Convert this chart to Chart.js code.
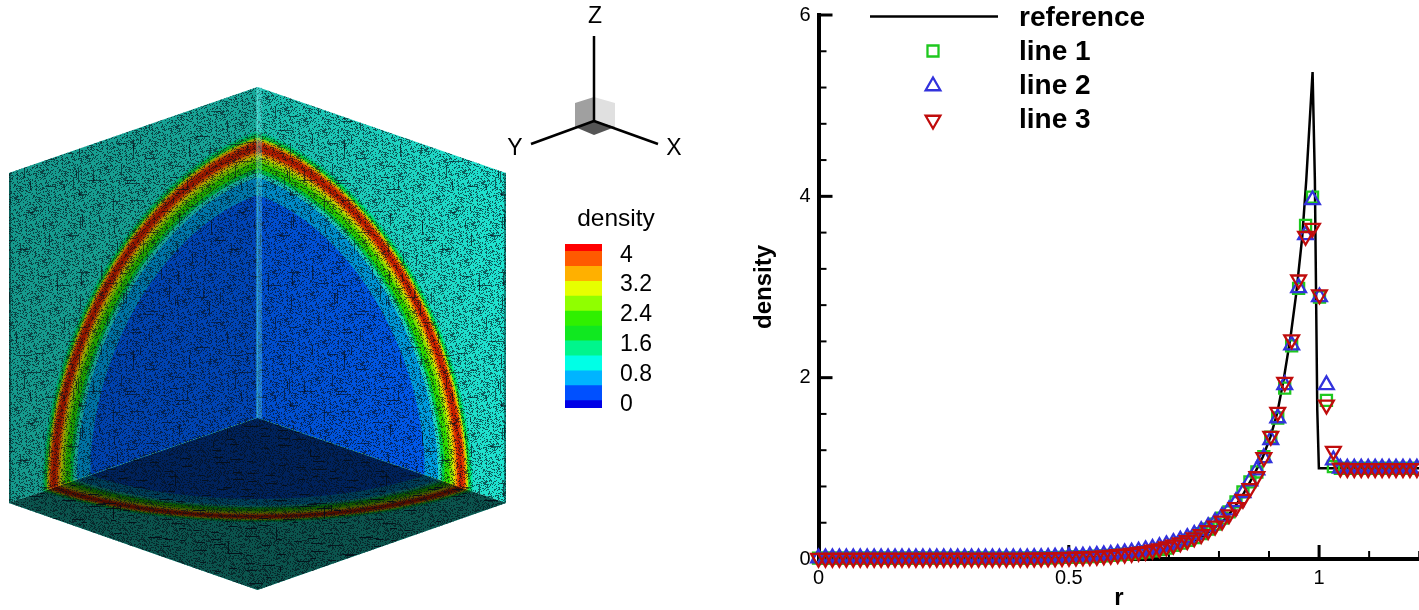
<!DOCTYPE html>
<html>
<head>
<meta charset="utf-8">
<title>density</title>
<script src="https://cdn.jsdelivr.net/npm/chart.js@4/dist/chart.umd.js"></script>
<style>
    html, body { margin: 0; padding: 0; background: #fff; overflow: hidden; }
    canvas { position: absolute; }
</style>
</head>
<body>
<canvas id="cubeChart" width="730" height="610" style="left:0px;top:0px"></canvas>
<canvas id="colorbarChart" width="97" height="180" style="left:565px;top:234px"></canvas>
<canvas id="profileChart" width="700" height="610" style="left:730px;top:0px"></canvas>
<script>
'use strict'

// Profile chart data.
const sampleR = [
    0, 0.0139, 0.0278, 0.0417, 0.0556, 0.0695, 0.0834, 0.0973, 0.1112, 0.1251,
    0.139, 0.1529, 0.1668, 0.1807, 0.1946, 0.2085, 0.2224, 0.2363, 0.2502, 0.2641,
    0.278, 0.2919, 0.3058, 0.3197, 0.3336, 0.3475, 0.3614, 0.3753, 0.3892, 0.4031,
    0.417, 0.4309, 0.4448, 0.4587, 0.4726, 0.4865, 0.5004, 0.5143, 0.5282, 0.5421,
    0.556, 0.5699, 0.5838, 0.5977, 0.6116, 0.6255, 0.6394, 0.6533, 0.6672, 0.6811,
    0.695, 0.7089, 0.7228, 0.7367, 0.7506, 0.7645, 0.7784, 0.7923, 0.8062, 0.8201,
    0.834, 0.8479, 0.8618, 0.8757, 0.8896, 0.9035, 0.9174, 0.9313, 0.9452, 0.9591,
    0.973, 0.9869, 1.0008, 1.0147, 1.0286, 1.0425, 1.0564, 1.0703, 1.0842, 1.0981,
    1.112, 1.1259, 1.1398, 1.1537, 1.1676, 1.1815, 1.1954
];
const line1Density = [
    0.01, 0.01, 0.01, 0.01, 0.01, 0.01, 0.01, 0.01, 0.01, 0.01,
    0.01, 0.01, 0.01, 0.01, 0.01, 0.01, 0.01, 0.01, 0.01, 0.01,
    0.01, 0.01, 0.01, 0.01, 0.01, 0.01, 0.01, 0.01, 0.01, 0.01,
    0.01, 0.011, 0.012, 0.014, 0.016, 0.018, 0.02, 0.022, 0.024, 0.027,
    0.03, 0.035, 0.04, 0.045, 0.052, 0.06, 0.07, 0.08, 0.09, 0.105,
    0.12, 0.15, 0.175, 0.205, 0.235, 0.28, 0.33, 0.385, 0.45, 0.52,
    0.63, 0.74, 0.85, 0.96, 1.13, 1.345, 1.555, 1.885, 2.35, 2.985,
    3.68, 3.99, 2.89, 1.75, 1.02, 1, 1, 1, 1, 1,
    1, 1, 1, 1, 1, 1, 1
];
const line2Density = [
    0.01, 0.01, 0.01, 0.01, 0.01, 0.01, 0.01, 0.01, 0.01, 0.01,
    0.01, 0.01, 0.01, 0.01, 0.01, 0.01, 0.01, 0.01, 0.01, 0.01,
    0.01, 0.01, 0.01, 0.01, 0.01, 0.01, 0.01, 0.01, 0.01, 0.01,
    0.011, 0.012, 0.014, 0.016, 0.018, 0.02, 0.023, 0.026, 0.03, 0.033,
    0.038, 0.043, 0.05, 0.057, 0.065, 0.075, 0.085, 0.1, 0.115, 0.135,
    0.155, 0.18, 0.205, 0.235, 0.27, 0.31, 0.355, 0.41, 0.47, 0.54,
    0.63, 0.73, 0.86, 0.98, 1.115, 1.315, 1.555, 1.92, 2.36, 2.99,
    3.575, 3.96, 2.89, 1.92, 1.09, 1, 1, 1, 1, 1,
    1, 1, 1, 1, 1, 1, 1
];
const line3Density = [
    0.01, 0.01, 0.01, 0.01, 0.01, 0.01, 0.01, 0.01, 0.01, 0.01,
    0.01, 0.01, 0.01, 0.01, 0.01, 0.01, 0.01, 0.01, 0.01, 0.01,
    0.01, 0.01, 0.01, 0.01, 0.01, 0.01, 0.01, 0.01, 0.01, 0.01,
    0.01, 0.011, 0.012, 0.013, 0.015, 0.017, 0.02, 0.022, 0.025, 0.028,
    0.032, 0.037, 0.043, 0.05, 0.055, 0.065, 0.075, 0.085, 0.1, 0.115,
    0.135, 0.155, 0.18, 0.205, 0.235, 0.27, 0.315, 0.365, 0.42, 0.49,
    0.57, 0.66, 0.78, 0.91, 1.12, 1.355, 1.62, 1.95, 2.42, 3.08,
    3.56, 3.65, 2.915, 1.7, 1.19, 1.005, 1, 1, 1, 1,
    1, 1, 1, 1, 1, 1, 1
];
const referenceR = [
    0, 0.3, 0.5, 0.6, 0.65, 0.7, 0.75, 0.77, 0.79, 0.81, 0.83, 0.85, 0.87, 0.888,
    0.903, 0.9164, 0.929, 0.943, 0.9544, 0.9664, 0.9744, 0.987, 0.9916, 0.9964,
    0.9996, 1.2
];
const referenceDensity = [
    0, 0, 0.01, 0.03, 0.055, 0.1, 0.2, 0.26, 0.34, 0.43, 0.56, 0.73, 0.93, 1.13,
    1.35, 1.61, 1.97, 2.45, 2.93, 3.555, 4.18, 5.37, 4.18, 1.64,
    1, 1
];
const xMajorTicks = [0, 0.5, 1];
const xMinorTicks = [0.1, 0.2, 0.3, 0.4, 0.6, 0.7, 0.8, 0.9, 1.1, 1.2];
const yMajorTicks = [0, 2, 4, 6];
const yMinorTicks = [0.4, 0.8, 1.2, 1.6, 2.4, 2.8, 3.2, 3.6, 4.4, 4.8, 5.2, 5.6];
const legendLabels = ['reference', 'line 1', 'line 2', 'line 3'];

// Contour legend: band edges and colours, lowest first.
const colorbarEdges = [-0.1, 0.1, 0.5, 0.9, 1.3, 1.7, 2.1, 2.5, 2.9, 3.3, 3.7, 4.1, 4.3];
const colorbarColors = [
    '#0000e6', '#0050ff', '#00b4ff', '#00ffe6', '#00f58c', '#10e820',
    '#30f000', '#90ff00', '#e6ff00', '#ffb000', '#ff5a00', '#ff0000'
];
const colorbarTicks = [0, 0.8, 1.6, 2.4, 3.2, 4];

// Sphere slice contours on the cube faces, outermost radius first.
const contourRadii = [
    1.04, 1.03, 1.018, 1.01, 1.003, 0.992, 0.975, 0.965, 0.955, 0.945,
    0.93, 0.905, 0.89, 0.873, 0.808
];
const contourColors = [
    '#00f0a0', '#10e840', '#c0f000', '#ffa000', '#f04000', '#d02000', '#f04000', '#ffa000', '#e8f000', '#90f000',
    '#30e800', '#00e050', '#20e8d4', '#00a8f0', '#0060ff'
];
const backgroundColor = '#20e8d4';

// Cube outline on screen: back corner and the three far corners.
const cubeSide = 1.2;
const backBottom = [257.5, 418];
const backTop = [257.5, 87];
const leftBottom = [9, 503];
const leftTop = [9, 173];
const rightBottom = [506, 503];
const rightTop = [506, 173];
const frontBottom = [257.5, 590];

window.onload = function() {
    drawCubeChart();
    drawColorbarChart();
    drawProfileChart();
}

/**
 * Makes a tile of dark specks and short strokes, looks like a fine surface mesh.
 *
 * @param {number} speckRate Share of the pixels that get a speck (out of 1000).
 * @param {number} strokes Number of strokes in the tile.
 * @param {number} horizontalRate Share of horizontal strokes (out of 100).
 */
function makeMeshPattern(speckRate, strokes, horizontalRate) {
    const size = 211;
    const tile = document.createElement('canvas');
    tile.width = size;
    tile.height = size;
    const ctx = tile.getContext('2d');
    let seed = 12345 + speckRate;
    const next = () => {
        seed = (seed * 1103 + 12345) % 2147483;
        return seed;
    };

    ctx.fillStyle = 'rgba(5,15,25,0.62)';
    for (let y = 0; y < size; y++) {
        for (let x = 0; x < size; x++) {
            if (next() % 1000 < speckRate) {
                ctx.fillRect(x, y, 1, 1);
            }
        }
    }
    for (let i = 0; i < strokes; i++) {
        const x = next() % size;
        const y = next() % size;
        const len = 5 + next() % 10;
        if (next() % 100 < horizontalRate) {
            ctx.fillRect(x, y, len, 1);
        } else {
            ctx.fillRect(x, y, 1, len);
        }
    }
    return ctx.createPattern(tile, 'repeat');
}

/**
 * Points of a quarter circle slice on one face, closed at the back corner.
 */
function sectorPoints(radius, corner1, corner2) {
    const points = [{x: backBottom[0], y: backBottom[1]}];
    const steps = 48;
    for (let i = 0; i <= steps; i++) {
        const angle = i / steps * Math.PI / 2;
        const a = Math.cos(angle) * radius / cubeSide;
        const b = Math.sin(angle) * radius / cubeSide;
        points.push({
            x: backBottom[0] + a * (corner1[0] - backBottom[0]) + b * (corner2[0] - backBottom[0]),
            y: backBottom[1] + a * (corner1[1] - backBottom[1]) + b * (corner2[1] - backBottom[1])
        });
    }
    points.push({x: backBottom[0], y: backBottom[1]});
    return points;
}

function polygon(corners, color) {
    const points = corners.map((c) => ({x: c[0], y: c[1]}));
    points.push(points[0]);
    return {data: points, showLine: true, fill: 'shape', backgroundColor: color, borderWidth: 0, pointRadius: 0, tension: 0};
}

function segment(from, to, color, width) {
    return {
        data: [{x: from[0], y: from[1]}, {x: to[0], y: to[1]}],
        showLine: true, fill: false, borderColor: color, borderWidth: width, pointRadius: 0, tension: 0
    };
}

/**
 * Draws the shaded cube, the axis triad and their labels.
 */
function drawCubeChart() {
    const canvas = document.getElementById('cubeChart');
    const ctx = canvas.getContext('2d');
    const datasets = [];
    const leftWall = [leftBottom, backBottom, backTop, leftTop];
    const rightWall = [backBottom, rightBottom, rightTop, backTop];
    const floor = [leftBottom, backBottom, rightBottom, frontBottom];

    // Shading of the faces, the right wall brightens towards its outer edge.
    const leftShade = ctx.createLinearGradient(9, 0, 257, 0);
    leftShade.addColorStop(0, 'rgba(0,0,0,0.34)');
    leftShade.addColorStop(1, 'rgba(0,0,0,0.28)');
    const rightShade = ctx.createLinearGradient(257, 0, 506, 0);
    rightShade.addColorStop(0, 'rgba(0,0,0,0.2)');
    rightShade.addColorStop(1, 'rgba(0,0,0,0.02)');

    const wallMesh = makeMeshPattern(280, 110, 50);
    const floorMesh = makeMeshPattern(320, 500, 92);

    [
        {corners: leftWall, end1: leftBottom, end2: backTop, shade: leftShade, mesh: wallMesh},
        {corners: rightWall, end1: rightBottom, end2: backTop, shade: rightShade, mesh: wallMesh},
        {corners: floor, end1: leftBottom, end2: rightBottom, shade: 'rgba(0,0,0,0.64)', mesh: floorMesh}
    ].forEach((face) => {
        datasets.push(polygon(face.corners, backgroundColor));
        contourRadii.forEach((radius, i) => {
            const band = polygon([], contourColors[i]);
            band.data = sectorPoints(radius, face.end1, face.end2);
            datasets.push(band);
        });
        datasets.push(polygon(face.corners, face.shade));
        datasets.push(polygon(face.corners, face.mesh));
    });

    // Light strip along the back edge and dark outer edges.
    datasets.push(segment([259, 87], [259, 418], 'rgba(120,255,255,0.28)', 6));
    datasets.push(segment([10, 173], [10, 503], 'rgba(0,30,30,0.45)', 2));
    datasets.push(segment([505, 173], [505, 503], 'rgba(0,30,30,0.45)', 2));

    // Axis triad with its small orientation cube.
    datasets.push(polygon([[575, 103], [594, 97], [594, 121], [575, 127]], '#a0a0a0'));
    datasets.push(polygon([[594, 97], [615, 103], [615, 127], [594, 121]], '#e0e0e0'));
    datasets.push(polygon([[575, 127], [594, 121], [615, 127], [594, 135]], '#555555'));
    datasets.push(segment([594, 36], [594, 121], '#000', 2.5));
    datasets.push(segment([531, 144], [594, 121], '#000', 2.5));
    datasets.push(segment([658, 144], [594, 121], '#000', 2.5));

    // Later datasets paint on top.
    datasets.forEach((d, i) => { d.order = datasets.length - i; });

    const cubeLabels = {
        id: 'cubeLabels',
        afterDraw(chart) {
            const c = chart.ctx;
            c.save();
            c.fillStyle = '#000';
            c.textAlign = 'center';
            c.textBaseline = 'middle';
            c.font = '23px "Liberation Sans"';
            c.fillText('Z', 595, 17);
            c.fillText('Y', 515, 149);
            c.fillText('X', 674, 149);
            c.font = '24.5px "Liberation Sans"';
            c.fillText('density', 616, 219);
            c.restore();
        }
    };

    new Chart(ctx, {
        type: 'scatter',
        data: {datasets: datasets},
        options: {
            responsive: false,
            animation: false,
            events: [],
            layout: {padding: 0},
            plugins: {legend: {display: false}, tooltip: {enabled: false}},
            scales: {
                x: {type: 'linear', min: 0, max: canvas.width, display: false},
                y: {type: 'linear', min: 0, max: canvas.height, reverse: true, display: false}
            }
        },
        plugins: [cubeLabels]
    });
}

/**
 * Draws the stepped contour legend as floating bars on a density scale.
 */
function drawColorbarChart() {
    const datasets = colorbarColors.map((color, i) => ({
        data: [[colorbarEdges[i], colorbarEdges[i + 1]]],
        backgroundColor: color,
        borderWidth: 0,
        barPercentage: 1,
        categoryPercentage: 1,
        grouped: false
    }));

    new Chart(document.getElementById('colorbarChart'), {
        type: 'bar',
        data: {labels: ['density'], datasets: datasets},
        options: {
            responsive: false,
            animation: false,
            events: [],
            layout: {padding: {top: 10, bottom: 6}},
            plugins: {legend: {display: false}, tooltip: {enabled: false}},
            scales: {
                x: {display: false},
                y: {
                    position: 'right',
                    min: colorbarEdges[0],
                    max: colorbarEdges[colorbarEdges.length - 1],
                    afterBuildTicks: (scale) => { scale.ticks = colorbarTicks.map((v) => ({value: v})); },
                    afterFit: (scale) => { scale.width = 60; scale.paddingTop = 0; scale.paddingBottom = 0; },
                    grid: {display: false, drawTicks: false},
                    border: {display: false},
                    ticks: {
                        color: '#000',
                        padding: 18,
                        autoSkip: false,
                        font: {family: '"Liberation Sans"', size: 23},
                        callback: (value) => value.toString()
                    }
                }
            }
        }
    });
}

/**
 * Draws the density against r chart with inward ticks and the hand placed legend.
 */
function drawProfileChart() {
    const toPoints = (xs, ys) => xs.map((x, i) => ({x: x, y: ys[i]}));
    const markerBase = {
        showLine: false,
        backgroundColor: 'transparent',
        pointBackgroundColor: 'transparent',
        pointBorderWidth: 2.3,
        clip: false
    };

    const inwardTicks = {
        id: 'inwardTicks',
        beforeDatasetsDraw(chart) {
            const c = chart.ctx;
            const xScale = chart.scales.x;
            const yScale = chart.scales.y;
            const left = xScale.left;
            const bottom = yScale.bottom;
            const drawX = (values, len, width) => values.forEach((v) => {
                const px = xScale.getPixelForValue(v);
                c.lineWidth = width;
                c.beginPath();
                c.moveTo(px, bottom);
                c.lineTo(px, bottom - len);
                c.stroke();
            });
            const drawY = (values, len, width) => values.forEach((v) => {
                const py = yScale.getPixelForValue(v);
                c.lineWidth = width;
                c.beginPath();
                c.moveTo(left, py);
                c.lineTo(left + len, py);
                c.stroke();
            });
            c.save();
            c.strokeStyle = '#000';
            drawX(xMajorTicks, 14, 3);
            drawX(xMinorTicks, 8, 2);
            drawY(yMajorTicks, 14, 3);
            drawY(yMinorTicks, 8, 2);
            c.restore();
        }
    };

    const plotLegend = {
        id: 'plotLegend',
        afterDraw(chart) {
            const c = chart.ctx;
            const rows = [18, 52, 86, 120];
            const sampleX = 203;
            c.save();
            c.strokeStyle = '#000';
            c.lineWidth = 2.5;
            c.beginPath();
            c.moveTo(140, 16.5);
            c.lineTo(268, 16.5);
            c.stroke();

            const markers = [null, chart.data.datasets[1], chart.data.datasets[2], chart.data.datasets[3]];
            const markerRows = [0, 51, 86, 120];
            markers.forEach((d, i) => {
                if (!d) {
                    return;
                }
                c.strokeStyle = d.pointBorderColor;
                c.fillStyle = 'transparent';
                c.lineWidth = 2.3;
                Chart.helpers.drawPoint(c, {
                    pointStyle: d.pointStyle,
                    rotation: d.pointRotation || 0,
                    radius: d.pointRadius,
                    borderWidth: 2.3
                }, sampleX, markerRows[i]);
            });

            c.fillStyle = '#000';
            c.textAlign = 'left';
            c.textBaseline = 'middle';
            c.font = 'bold 28px "Liberation Sans"';
            legendLabels.forEach((label, i) => c.fillText(label, 289, rows[i]));
            c.restore();
        }
    };

    new Chart(document.getElementById('profileChart'), {
        type: 'scatter',
        data: {
            datasets: [
                {
                    label: legendLabels[0],
                    data: toPoints(referenceR, referenceDensity),
                    showLine: true,
                    fill: false,
                    tension: 0,
                    borderColor: '#000',
                    borderWidth: 2.5,
                    pointRadius: 0,
                    order: 4
                },
                Object.assign({}, markerBase, {
                    label: legendLabels[1],
                    data: toPoints(sampleR, line1Density),
                    pointStyle: 'rect',
                    pointRadius: 7.8,
                    pointBorderColor: '#1ec81e',
                    order: 3
                }),
                Object.assign({}, markerBase, {
                    label: legendLabels[2],
                    data: toPoints(sampleR, line2Density),
                    pointStyle: 'triangle',
                    pointRadius: 8.5,
                    pointBorderColor: '#3232dc',
                    order: 2
                }),
                Object.assign({}, markerBase, {
                    label: legendLabels[3],
                    data: toPoints(sampleR, line3Density),
                    pointStyle: 'triangle',
                    pointRotation: 180,
                    pointRadius: 8.5,
                    pointBorderColor: '#c00c0c',
                    order: 1
                })
            ]
        },
        options: {
            responsive: false,
            animation: false,
            events: [],
            layout: {padding: {top: 15, right: 1.3, left: 0, bottom: 0}},
            plugins: {legend: {display: false}, tooltip: {enabled: false}},
            scales: {
                x: {
                    type: 'linear',
                    min: 0,
                    max: 1.2,
                    afterBuildTicks: (scale) => { scale.ticks = xMajorTicks.map((v) => ({value: v})); },
                    afterFit: (scale) => { scale.height = 51; scale.paddingLeft = 0; scale.paddingRight = 0; },
                    grid: {display: false, drawTicks: false},
                    border: {color: '#000', width: 4},
                    ticks: {color: '#000', padding: 7, maxRotation: 0, autoSkip: false, font: {family: '"Liberation Sans"', size: 20}, callback: (v) => v.toString()},
                    title: {display: true, text: 'r', color: '#000', padding: {top: 3, bottom: -3}, font: {family: '"Liberation Sans"', size: 24, weight: 'bold'}}
                },
                y: {
                    type: 'linear',
                    min: 0,
                    max: 6,
                    afterBuildTicks: (scale) => { scale.ticks = yMajorTicks.map((v) => ({value: v})); },
                    afterFit: (scale) => { scale.width = 88.5; scale.paddingTop = 0; scale.paddingBottom = 0; },
                    grid: {display: false, drawTicks: false},
                    border: {color: '#000', width: 4},
                    ticks: {color: '#000', padding: 8, autoSkip: false, font: {family: '"Liberation Sans"', size: 20}, callback: (v) => v.toString()},
                    title: {display: true, text: 'density', color: '#000', padding: {top: 20, bottom: 0}, font: {family: '"Liberation Sans"', size: 24, weight: 'bold'}}
                }
            }
        },
        plugins: [inwardTicks, plotLegend]
    });
}
</script>
</body>
</html>
